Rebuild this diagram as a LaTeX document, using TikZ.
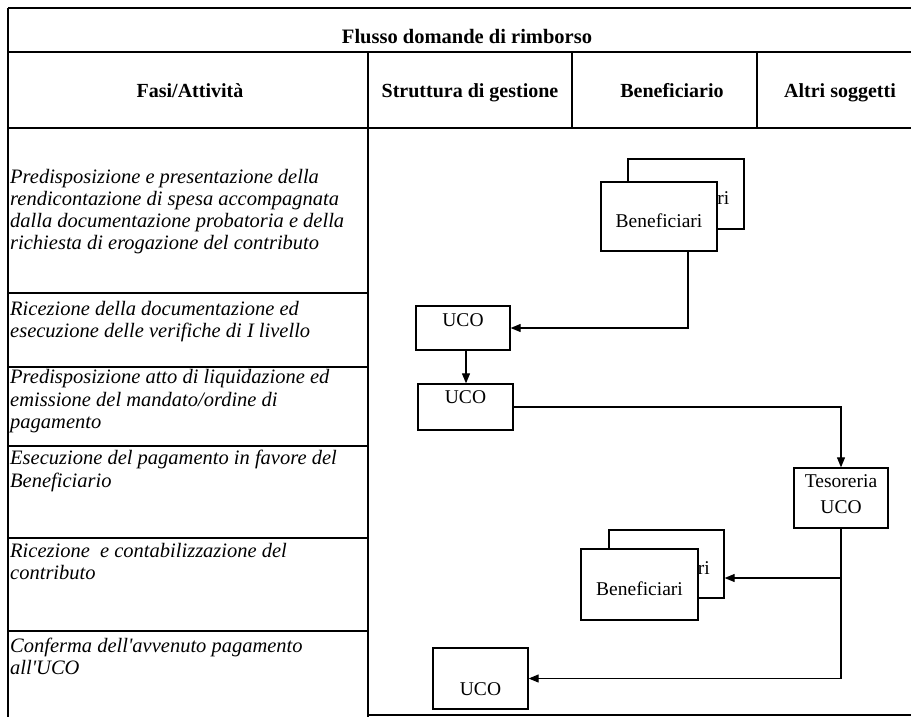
\documentclass[tikz,border=0pt]{standalone}
\usepackage{fontspec}
\setmainfont{Liberation Serif}
\usetikzlibrary{arrows.meta}
\begin{document}
\begin{tikzpicture}[x=1pt,y=-1pt,
  tbl/.style={line width=1.6pt},
  box/.style={draw,line width=1.3pt,fill=white,inner sep=0pt,rectangle},
  conn/.style={line width=1.1pt},
  arr/.style={conn,-{Triangle[length=10pt,width=8pt]}},
  hdr/.style={font=\bfseries\fontsize{20}{24}\selectfont,inner sep=0pt,anchor=base},
  fase/.style={font=\itshape\fontsize{20.5}{22}\selectfont,align=left,anchor=north west,inner sep=0pt},
  lbl/.style={font=\fontsize{19.5}{23}\selectfont,inner sep=0pt,anchor=base}]
\useasboundingbox (0,0) rectangle (911,717);
\fill[white] (0,0) rectangle (911,717);

% table frame
\draw[tbl] (8,8) -- (911,8);
\draw[tbl] (8,8) -- (8,717);
\draw[tbl] (8,52) -- (911,52);
\draw[tbl] (8,128) -- (911,128);
\draw[tbl] (368,52) -- (368,717);
\draw[tbl] (572,52) -- (572,128);
\draw[tbl] (757,52) -- (757,128);
\foreach \yy in {293,367,446,538,631} {\draw[tbl] (8,\yy) -- (368,\yy);}
\draw[tbl] (368,715) -- (911,715);

% headings
\node[hdr,font=\bfseries\fontsize{20.5}{24}\selectfont] (title) at (467,44) {Flusso domande di rimborso};
\node[hdr] (hfasi) at (190,98) {Fasi/Attività};
\node[hdr] (hstr) at (470,98) {Struttura di gestione};
\node[hdr] (hben) at (672,98) {Beneficiario};
\node[hdr] (haltri) at (840,98) {Altri soggetti};

% phases
\node[fase] (f1) at (10,167.6) {\strut Predisposizione e presentazione della\\rendicontazione di spesa accompagnata\\dalla documentazione probatoria e della\\richiesta di erogazione del contributo};
\node[fase] (f2) at (10,299.6) {\strut Ricezione della documentazione ed\\esecuzione delle verifiche di I livello};
\node[fase,font=\itshape\fontsize{20.5}{22.5}\selectfont] (f3) at (10,367.6) {\strut Predisposizione atto di liquidazione ed\\emissione del mandato/ordine di\\pagamento};
\node[fase,font=\itshape\fontsize{20.5}{23}\selectfont] (f4) at (10,448.6) {\strut Esecuzione del pagamento in favore del\\Beneficiario};
\node[fase] (f5) at (10,541.6) {\strut Ricezione\ \ e contabilizzazione del\\contributo};
\node[fase] (f6) at (10,636.6) {\strut Conferma dell\textquotesingle avvenuto pagamento\\all\textquotesingle UCO};

% boxes
\node[box,minimum width=116pt,minimum height=70pt] (ben1b) at (686,194) {};
\node[lbl] (ben1bt) at ([yshift=-10pt]ben1b.center) {Beneficiari};
\node[box,minimum width=116pt,minimum height=69pt] (ben1) at (659,216.5) {};
\node[lbl] (ben1t) at ([yshift=-10.5pt]ben1.center) {Beneficiari};

\node[box,minimum width=94pt,minimum height=44pt] (uco1) at (463,328) {};
\node[lbl] (uco1t) at ([yshift=2pt]uco1.center) {UCO};

\node[box,minimum width=95pt,minimum height=46pt] (uco2) at (465.5,407) {};
\node[lbl] (uco2t) at ([yshift=4pt]uco2.center) {UCO};

\node[box,minimum width=94pt,minimum height=60pt] (tes) at (841,498) {};
\node[lbl] (test1) at ([yshift=11pt]tes.center) {Tesoreria};
\node[lbl] (test2) at ([yshift=-15pt]tes.center) {UCO};

\node[box,minimum width=115pt,minimum height=68pt] (ben2b) at (666.5,564) {};
\node[lbl] (ben2bt) at ([yshift=-10.5pt]ben2b.center) {Beneficiari};
\node[box,minimum width=117pt,minimum height=71pt] (ben2) at (639.5,584.5) {};
\node[lbl] (ben2t) at ([yshift=-10.5pt]ben2.center) {Beneficiari};

\node[box,minimum width=95pt,minimum height=61pt] (uco3) at (480.5,678.5) {};
\node[lbl] (uco3t) at ([yshift=-16.5pt]uco3.center) {UCO};

% connectors
\draw[arr] ([xshift=29pt]ben1.south) |- (uco1.east);
\draw[arr] ([xshift=3pt]uco1.south) -- ([xshift=3pt]uco1.south |- uco2.north);
\draw[arr] (uco2.east) -| (tes.north);
\draw[arr] (tes.south) |- ([yshift=-14pt]ben2b.east);
\draw[arr] (tes.south) |- (uco3.east);
\end{tikzpicture}
\end{document}
